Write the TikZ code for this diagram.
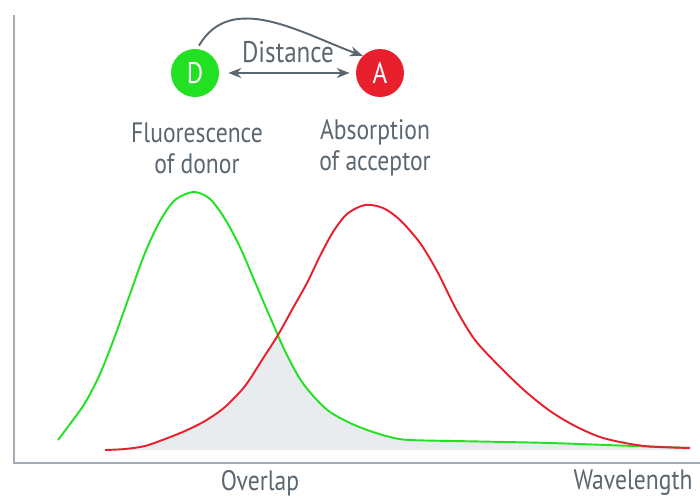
\documentclass[tikz,border=0pt]{standalone}
\usepackage{fontspec}
\setmainfont[FakeStretch=0.84]{PT Sans}
\usetikzlibrary{arrows.meta, positioning}
\definecolor{axisgray}{HTML}{A3ACB4}
\definecolor{txtgray}{HTML}{5A6670}
\definecolor{donor}{HTML}{22E022}
\definecolor{acceptor}{HTML}{E8202E}
\definecolor{overlapfill}{HTML}{E8ECEF}
\newcommand{\lbl}{\fontsize{16}{17.5}\selectfont}

\begin{document}
\begin{tikzpicture}[x=0.02cm, y=-0.02cm,
      dye/.style={circle, minimum size=0.96cm, inner sep=0pt, text=white,
                  font=\fontsize{17}{18}\selectfont},
      caption/.style={text=txtgray, align=center, font=\lbl},
      arr/.style={-{Stealth[length=2.6mm, width=2mm]}, line width=1.1pt, txtgray},
      curve/.style={line width=1.1pt, smooth, tension=0.5}]
    \useasboundingbox (0,0) rectangle (700,497);
    % overlap area
    \fill[overlapfill] plot[smooth, tension=0.5] coordinates {(105,450) (125,449) (145,446) (165,439)
      (185,431) (205,421) (225,407) (245,386) (262,360) (278,335)}
      -- plot[smooth, tension=0.5] coordinates {(278,335) (285,351) (300,379) (315,398) (330,412)
      (350,423) (370,431) (390,437) (410,440) (480,441.5) (550,443) (620,445.5) (690,448)}
      -- (690,450) -- cycle;
    % axes
    \draw[axisgray, line width=1.2pt] (14,15) -- (14,463) -- (700,463);
    % spectra
    \draw[curve, donor] plot coordinates {(58,440) (70,424) (85,403) (100,374) (115,336) (130,294)
      (145,253) (160,221) (175,200) (194,192) (210,199) (225,219) (240,247) (255,282) (270,317)
      (285,351) (300,379) (315,398) (330,412) (350,423) (370,431) (390,437) (410,440) (480,441.5)
      (550,443) (620,445.5) (690,448)};
    \draw[curve, acceptor] plot coordinates {(105,450) (125,449) (145,446) (165,439) (185,431)
      (205,421) (225,407) (245,386) (262,360) (278,335) (293,308) (307,283) (320,256) (333,232)
      (347,214) (365,205) (383,208) (400,220) (420,243) (437,271) (456,309) (475,340) (500,367)
      (525,391) (550,411) (575,426) (600,437) (625,443) (650,446.5) (690,448)};
    % donor and acceptor
    \node[dye, fill=donor] (d) at (195,73) {D};
    \node[dye, fill=acceptor] (a) at (380,73) {A};
    \draw[arr, {Stealth[length=2.6mm, width=2mm]}-{Stealth[length=2.6mm, width=2mm]},
      shorten <=0.18cm, shorten >=0.12cm] (d) -- (a);
    \node[caption, font=\fontsize{17}{18}\selectfont] (dist) at (288,52) {Distance};
    \draw[arr] (d.north) ++(4,-3) to[out=60, in=160] (a.north west);
    \node[caption] (fluo) at (197,148) {Fluorescence\\of donor};
    \node[caption] (abs) at (375,148) {Absorption\\of acceptor};
    \node[caption] (ovl) at (260,483) {Overlap};
    \node[caption] (wl) at (633,483) {Wavelength};
  \end{tikzpicture}
\end{document}
